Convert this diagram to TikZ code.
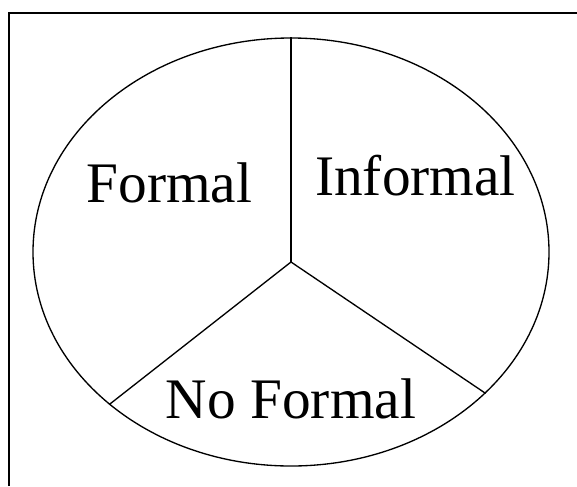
\documentclass[tikz,border=0pt]{standalone}
\usepackage{fontspec}
\setmainfont{Liberation Serif}
\usetikzlibrary{shapes.geometric}
\tikzset{
  part/.style={font=\fontsize{43}{50}\selectfont,inner sep=0pt,anchor=base},
  split/.style={line width=1pt},
}

\begin{document}
\begin{tikzpicture}[x=0.75pt,y=-0.75pt]
\useasboundingbox (0,0) rectangle (577,486);
% frame, right and bottom edges fall outside the page
\draw[line width=1.5pt] (9,486) |- (577,13);
\node[draw,ellipse,line width=1pt,inner sep=0pt,minimum width=387pt,minimum height=321pt] (oval) at (291,252) {};
\coordinate (mid) at (291,262);
\draw[split] (mid) -- (oval.north);
\draw[split] (mid) -- (oval.220.7);
\draw[split] (mid) -- (oval.324.8);
\node[part] (formal) at (169.5,202) {Formal};
\node[part] (informal) at (415.5,195) {Informal};
\node[part] (noformal) at (291,418) {No Formal};
\end{tikzpicture}
\end{document}
